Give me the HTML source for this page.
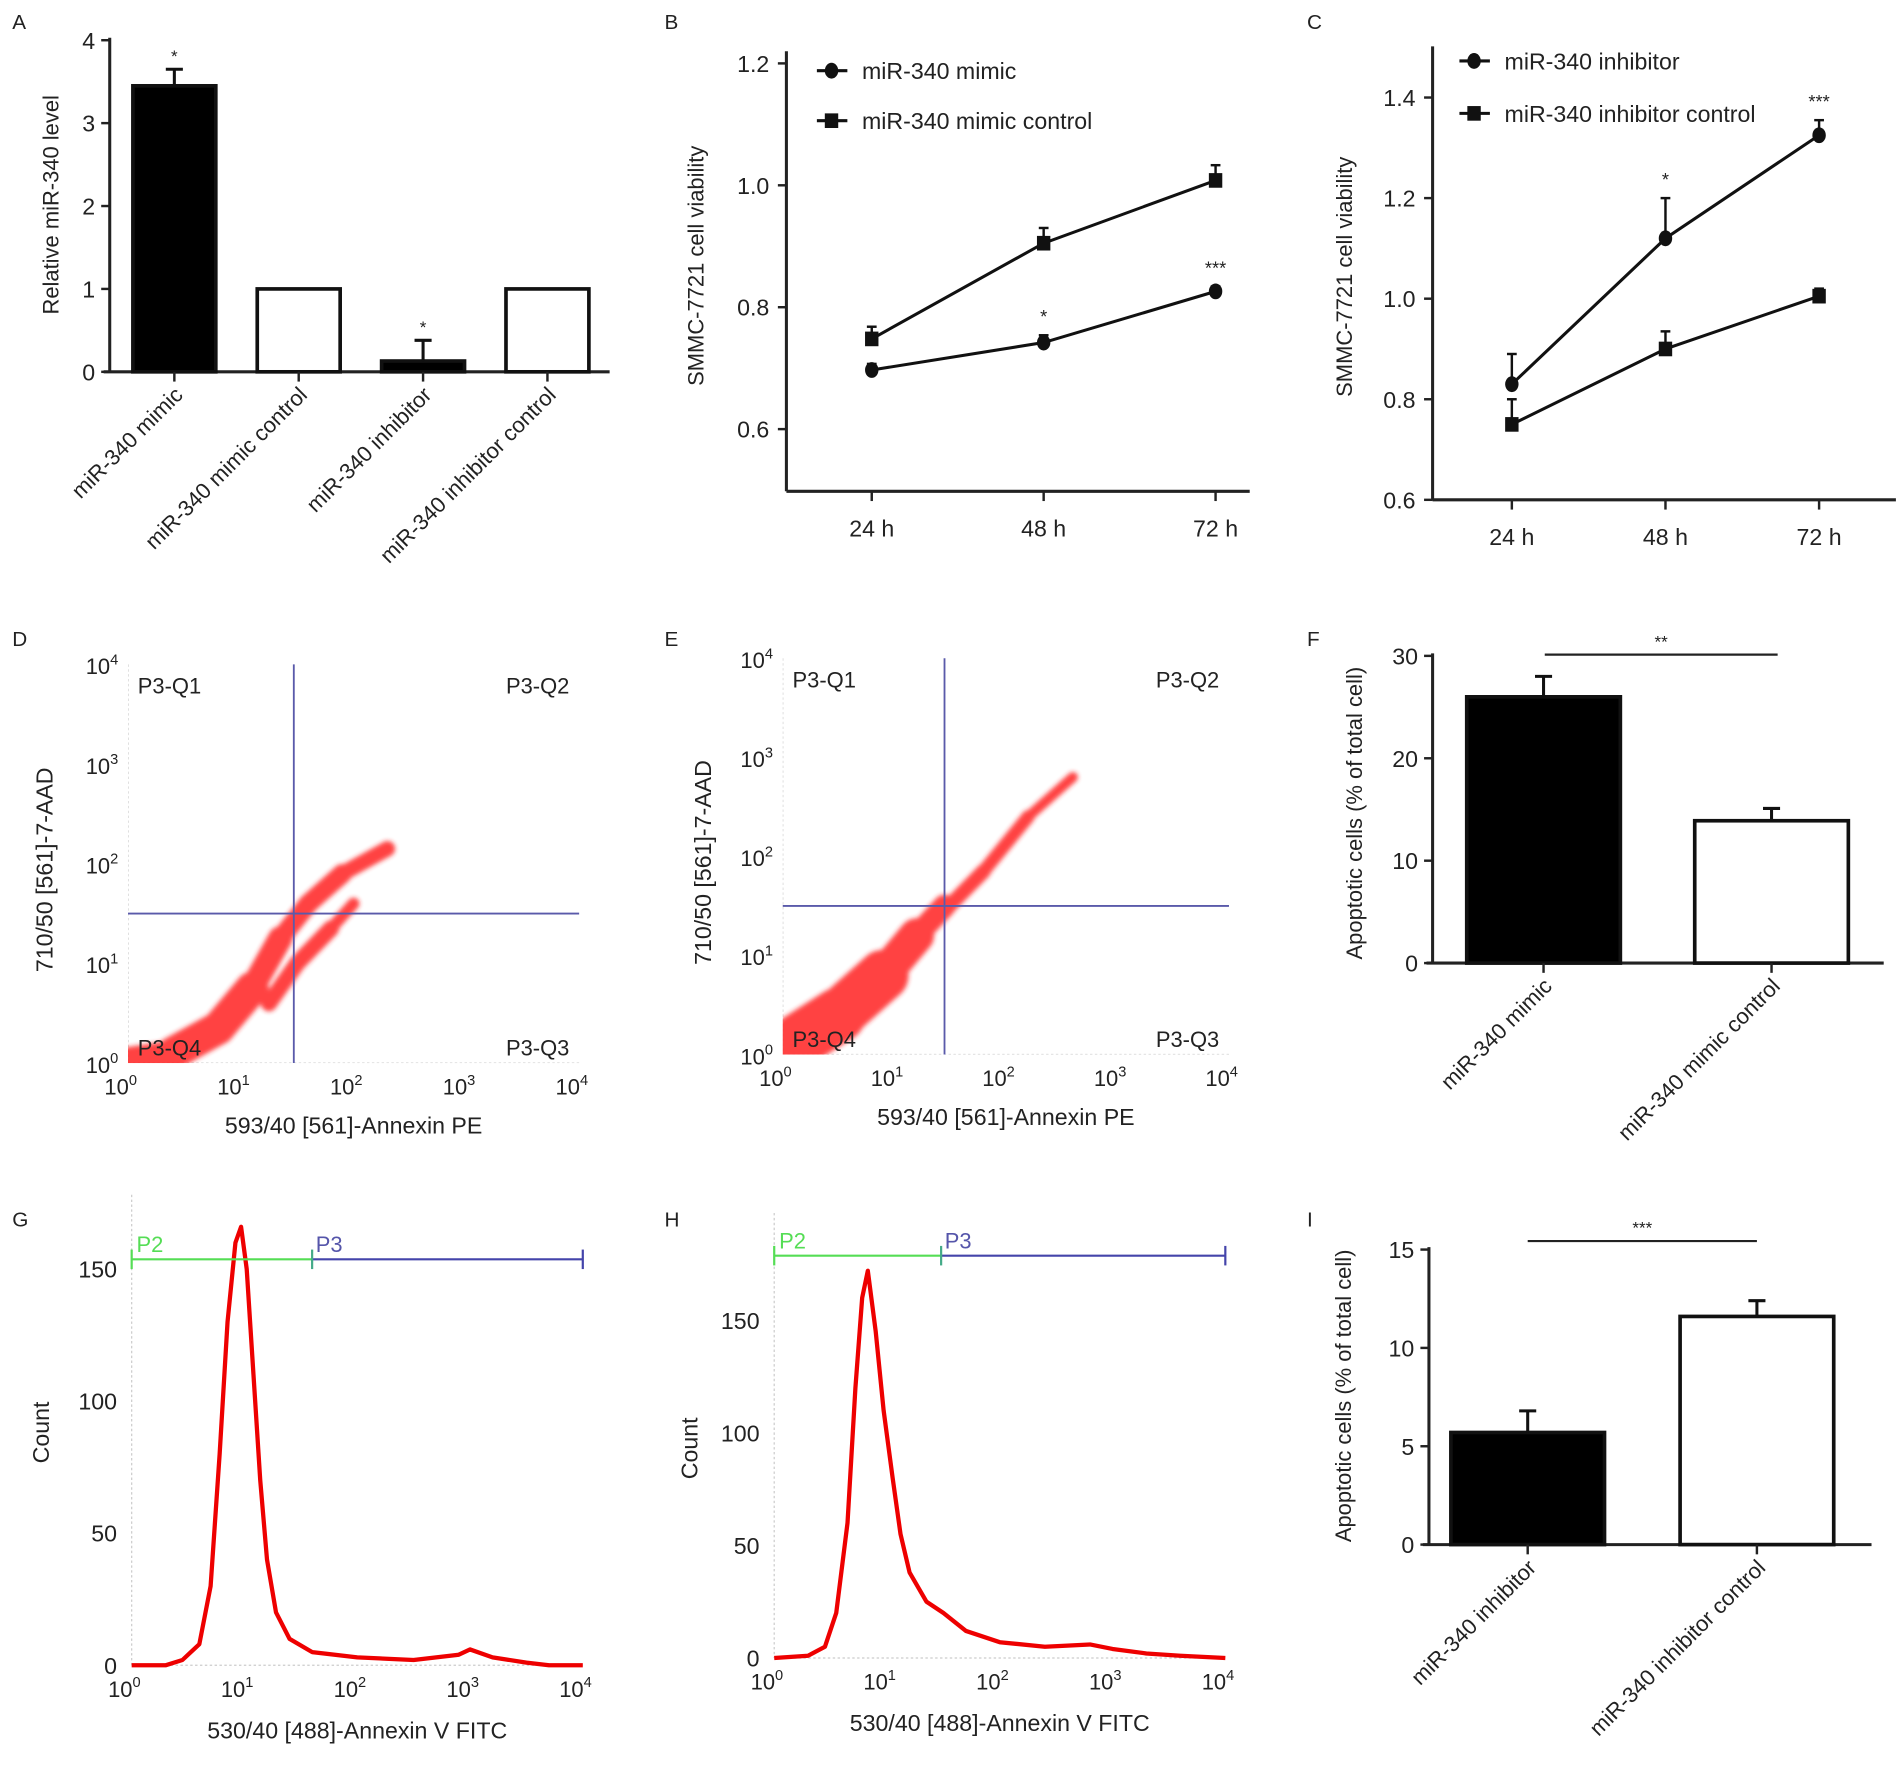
<!DOCTYPE html>
<html><head><meta charset="utf-8"><style>
html,body{margin:0;padding:0;background:#fff;}
svg{display:block;font-family:"Liberation Sans",Arial,sans-serif;}
</style></head><body>
<svg id="fig" width="1902" height="1775" viewBox="0 0 1560 1456" preserveAspectRatio="none" xmlns="http://www.w3.org/2000/svg">
<defs><filter id="blur" x="-20%" y="-20%" width="140%" height="140%"><feGaussianBlur stdDeviation="2"/></filter></defs>
</svg>
<script>
// ---------- Panel A data ----------
const aCats = ["miR-340 mimic","miR-340 mimic control","miR-340 inhibitor","miR-340 inhibitor control"];
const aVals = [3.45, 1.0, 0.13, 1.0];
const aErrs = [0.2, 0, 0.25, 0];
const aFill = ["black","white","black","white"];
const aStars = ["*","","*",""];
const aTicks = [0,1,2,3,4];
// ---------- Panel B data ----------
const bCats = ["24 h","48 h","72 h"];
const bMimic = [0.697, 0.742, 0.826];
const bMimicErr = [0.01, 0.012, 0.008];
const bCtrl = [0.748, 0.905, 1.008];
const bCtrlErr = [0.02, 0.025, 0.025];
const bStars = ["","*","***"];
const bTicks = [0.6,0.8,1.0,1.2];
// ---------- Panel C data ----------
const cCats = ["24 h","48 h","72 h"];
const cInh = [0.83, 1.12, 1.325];
const cInhErr = [0.06, 0.08, 0.03];
const cCtrl = [0.75, 0.90, 1.005];
const cCtrlErr = [0.05, 0.035, 0.015];
const cStars = ["","*","***"];
const cTicks = [0.6,0.8,1.0,1.2,1.4];
// ---------- Panel F data ----------
const fCats = ["miR-340 mimic","miR-340 mimic control"];
const fVals = [26, 13.9];
const fErrs = [2, 1.2];
const fTicks = [0,10,20,30];
// ---------- Panel I data ----------
const iCats = ["miR-340 inhibitor","miR-340 inhibitor control"];
const iVals = [5.7, 11.6];
const iErrs = [1.1, 0.8];
const iTicks = [0,5,10,15];
// ---------- Scatter density paths (log10 x, log10 y, spread) ----------
const dPath1 = [[0.0,0.03,0.15],[0.4,0.1,0.2],[0.8,0.35,0.25],[1.1,0.75,0.2],[1.35,1.25,0.13],[1.6,1.6,0.13],[1.9,1.9,0.13],[2.3,2.15,0.08]];
const dPath2 = [[1.25,0.6,0.1],[1.5,1.0,0.12],[1.8,1.35,0.1],[2.0,1.6,0.06]];
const ePath1 = [[0.15,0.15,0.35],[0.5,0.4,0.4],[0.9,0.8,0.3],[1.2,1.2,0.18],[1.45,1.5,0.13]];
const ePath2 = [[1.45,1.45,0.1],[1.8,1.85,0.1],[2.2,2.4,0.08],[2.6,2.8,0.06]];
// ---------- Histogram data (log10 x, count) ----------
const gHist = [[0,0],[0.3,0],[0.45,2],[0.6,8],[0.7,30],[0.78,80],[0.85,130],[0.92,160],[0.97,166],[1.02,150],[1.08,110],[1.14,70],[1.2,40],[1.28,20],[1.4,10],[1.6,5],[2.0,3],[2.5,2],[2.9,4],[3.0,6],[3.2,3],[3.5,1],[3.7,0],[4,0]];
const hHist = [[0,0],[0.3,1],[0.45,5],[0.55,20],[0.65,60],[0.72,120],[0.78,160],[0.83,172],[0.9,145],[0.97,110],[1.05,80],[1.12,55],[1.2,38],[1.35,25],[1.5,20],[1.7,12],[2.0,7],[2.4,5],[2.8,6],[3.0,4],[3.3,2],[3.6,1],[4,0]];

const NS="http://www.w3.org/2000/svg";
const svg=document.getElementById('fig');
function el(tag,attrs,parent,text){const e=document.createElementNS(NS,tag);for(const k in attrs)e.setAttribute(k,attrs[k]);if(text!==undefined)e.textContent=text;(parent||svg).appendChild(e);return e;}
function g(name){const e=el('g',{});return e;}
const lin=(d0,d1,r0,r1)=>v=>r0+(v-d0)/(d1-d0)*(r1-r0);
function txt(p,x,y,s,size,anchor,extra){return el('text',Object.assign({x:x,y:y,'font-size':size||18,'text-anchor':anchor||'middle',fill:'#222'},extra||{}),p,s);}

const letters=[["A",10,24],["B",545,24],["C",1072,24],["D",10,530],["E",545,530],["F",1072,530],["G",10,1006],["H",545,1006],["I",1072,1006]];
letters.forEach(l=>{const t=txt(svg,l[1],l[2],l[0],17,'start');});

function barChart(name,cfg){
  const p=g(name);
  const y=lin(cfg.ymin,cfg.ymax,cfg.y0,cfg.y1);
  el('line',{x1:cfg.ax,y1:y(cfg.ymax)-2,x2:cfg.ax,y2:cfg.y0,stroke:'#222','stroke-width':2.5},p);
  el('line',{x1:cfg.ax-5,y1:cfg.y0,x2:cfg.xEnd,y2:cfg.y0,stroke:'#222','stroke-width':2.5},p);
  cfg.ticks.forEach(t=>{el('line',{x1:cfg.ax-7,y1:y(t),x2:cfg.ax,y2:y(t),stroke:'#222','stroke-width':2},p);
    const tl=txt(p,cfg.ax-12,y(t)+7,String(t),19,'end');});
  cfg.cats.forEach((c,i)=>{
    const cx=cfg.c0+i*cfg.step, bw=cfg.bw;
    const r=el('rect',{x:cx-bw/2,y:y(cfg.vals[i]),width:bw,height:cfg.y0-y(cfg.vals[i]),fill:cfg.fill[i],stroke:'#111','stroke-width':3},p);
    
    
    if(cfg.errs[i]>0){el('line',{x1:cx,y1:y(cfg.vals[i]),x2:cx,y2:y(cfg.vals[i]+cfg.errs[i]),stroke:'#111','stroke-width':2.5},p);
      el('line',{x1:cx-7,y1:y(cfg.vals[i]+cfg.errs[i]),x2:cx+7,y2:y(cfg.vals[i]+cfg.errs[i]),stroke:'#111','stroke-width':2.5},p);}
    if(cfg.stars&&cfg.stars[i])txt(p,cx,y(cfg.vals[i]+cfg.errs[i])-6,cfg.stars[i],14);
    el('line',{x1:cx,y1:cfg.y0,x2:cx,y2:cfg.y0+8,stroke:'#222','stroke-width':2},p);
    const lx=cx+8, ly=cfg.y0+20;
    const lab=txt(p,lx,ly,c,18,'end',{transform:`rotate(-45 ${lx} ${ly})`});
    
  });
  const yl=txt(p,cfg.ylx,cfg.yly,cfg.ylabel,18,'middle',{transform:`rotate(-90 ${cfg.ylx} ${cfg.yly})`});
  
  if(cfg.sig){el('line',{x1:cfg.sig[0],y1:cfg.sig[2],x2:cfg.sig[1],y2:cfg.sig[2],stroke:'#222','stroke-width':1.8},p);
    txt(p,(cfg.sig[0]+cfg.sig[1])/2,cfg.sig[2]-6,cfg.sig[3],14);}
}
barChart('panel-a-bar-chart',{ymin:0,ymax:4,y0:305,y1:33,ax:90,xEnd:500,ticks:aTicks,cats:aCats,vals:aVals,errs:aErrs,fill:aFill,stars:aStars,c0:143,step:102,bw:68,ylx:48,yly:168,ylabel:"Relative miR-340 level"});
barChart('panel-f-bar-chart',{ymin:0,ymax:30,y0:790,y1:538,ax:1175,xEnd:1545,ticks:fTicks,cats:fCats,vals:fVals,errs:fErrs,fill:["black","white"],c0:1266,step:187,bw:126,ylx:1117,yly:667,ylabel:"Apoptotic cells (% of total cell)",sig:[1267,1458,537,"**"]});
barChart('panel-i-bar-chart',{ymin:0,ymax:15,y0:1267,y1:1025,ax:1172,xEnd:1535,ticks:iTicks,cats:iCats,vals:iVals,errs:iErrs,fill:["black","white"],c0:1253,step:188,bw:126,ylx:1108,yly:1145,ylabel:"Apoptotic cells (% of total cell)",sig:[1253,1441,1018,"***"]});

function lineChart(name,cfg){
  const p=g(name);
  const y=lin(cfg.ymin,cfg.ymax,cfg.y0,cfg.y1);
  const bot=cfg.bottom;
  el('line',{x1:cfg.ax,y1:cfg.top,x2:cfg.ax,y2:bot,stroke:'#222','stroke-width':2.5},p);
  el('line',{x1:cfg.ax,y1:bot,x2:cfg.xEnd,y2:bot,stroke:'#222','stroke-width':2.5},p);
  cfg.ticks.forEach(t=>{el('line',{x1:cfg.ax-7,y1:y(t),x2:cfg.ax,y2:y(t),stroke:'#222','stroke-width':2},p);
    const tl=txt(p,cfg.ax-14,y(t)+7,t.toFixed(1),19,'end');});
  const xs=cfg.cats.map((c,i)=>cfg.c0+i*cfg.step);
  cfg.cats.forEach((c,i)=>{el('line',{x1:xs[i],y1:bot,x2:xs[i],y2:bot+8,stroke:'#222','stroke-width':2},p);
    const tl=txt(p,xs[i],bot+37,c,19);});
  cfg.series.forEach(s=>{
    const sg=el('g',{},p);
    el('polyline',{points:s.vals.map((v,i)=>xs[i]+','+y(v)).join(' '),fill:'none',stroke:'#111','stroke-width':2.5},sg);
    s.vals.forEach((v,i)=>{
      el('line',{x1:xs[i],y1:y(v),x2:xs[i],y2:y(v+s.errs[i]),stroke:'#111','stroke-width':2},sg);
      el('line',{x1:xs[i]-4,y1:y(v+s.errs[i]),x2:xs[i]+4,y2:y(v+s.errs[i]),stroke:'#111','stroke-width':2},sg);
      const m = s.marker==='circle'?el('ellipse',{cx:xs[i],cy:y(v),rx:5.5,ry:6.5,fill:'#111'},sg):el('rect',{x:xs[i]-5.5,y:y(v)-6,width:11,height:12,fill:'#111'},sg);
      
    });
  });
  cfg.stars.forEach((st,i)=>{if(st){const s=cfg.series[cfg.starSeries];txt(p,xs[i],y(s.vals[i]+s.errs[i])-10,st,15);}});
  cfg.series.forEach((s,k)=>{
    const lg=el('g',{},p);
    const ly=cfg.legY[k];
    el('line',{x1:cfg.legX,y1:ly,x2:cfg.legX+25,y2:ly,stroke:'#111','stroke-width':2.5},lg);
    if(s.marker==='circle')el('ellipse',{cx:cfg.legX+12,cy:ly,rx:5.5,ry:6.5,fill:'#111'},lg);else el('rect',{x:cfg.legX+6.5,y:ly-6,width:11,height:12,fill:'#111'},lg);
    txt(lg,cfg.legX+37,ly+7,s.name,19,'start');
  });
  const yl=txt(p,cfg.ylx,cfg.yly,cfg.ylabel,18,'middle',{transform:`rotate(-90 ${cfg.ylx} ${cfg.yly})`});
  
}
lineChart('panel-b-line-chart',{ymin:0.6,ymax:1.2,y0:352,y1:52,top:42,bottom:403,ax:645,xEnd:1025,ticks:bTicks,cats:bCats,c0:715,step:141,legX:670,legY:[58,99],ylx:577,yly:218,ylabel:"SMMC-7721 cell viability",stars:bStars,starSeries:0,
  series:[{name:"miR-340 mimic",vals:bMimic,errs:bMimicErr,marker:'circle'},{name:"miR-340 mimic control",vals:bCtrl,errs:bCtrlErr,marker:'square'}]});
lineChart('panel-c-line-chart',{ymin:0.6,ymax:1.4,y0:410,y1:80,top:38,bottom:410,ax:1175,xEnd:1555,ticks:cTicks,cats:cCats,c0:1240,step:126,legX:1197,legY:[50,93],ylx:1109,yly:227,ylabel:"SMMC-7721 cell viability",stars:cStars,starSeries:0,
  series:[{name:"miR-340 inhibitor",vals:cInh,errs:cInhErr,marker:'circle'},{name:"miR-340 inhibitor control",vals:cCtrl,errs:cCtrlErr,marker:'square'}]});

function logLabel(p,x,y,exp,anchor,name){const t=el('text',{x:x,y:y,'font-size':18,'text-anchor':anchor,fill:'#222'},p);
  el('tspan',{},t,'10');el('tspan',{dy:-8,'font-size':12},t,String(exp));
  }

function scatter(name,cfg){
  const p=g(name);
  const x=lin(0,4,cfg.x0,cfg.x1), y=lin(0,4,cfg.y0,cfg.y1);
  el('line',{x1:cfg.x0,y1:cfg.y1,x2:cfg.x0,y2:cfg.y0,stroke:'#ccc','stroke-width':1,'stroke-dasharray':'2,2'},p);
  el('line',{x1:cfg.x0,y1:cfg.y0,x2:cfg.x1,y2:cfg.y0,stroke:'#ccc','stroke-width':1,'stroke-dasharray':'2,2'},p);
  const cl=el('g',{filter:'url(#blur)',opacity:0.85},p);
  cfg.paths.forEach(path=>{
    for(let i=0;i<path.length-1;i++){const a=path[i],b=path[i+1];
      const w=((a[2]+b[2])/2)*(cfg.x1-cfg.x0)/4*1.3;
      el('line',{x1:x(a[0]),y1:y(a[1]),x2:x(b[0]),y2:y(b[1]),stroke:'#f22','stroke-width':w,'stroke-linecap':'round'},cl);}
  });
  el('rect',{x:cfg.x0-30,y:cfg.y0,width:cfg.x1-cfg.x0+60,height:40,fill:'#fff'},p);
  el('rect',{x:cfg.x0-40,y:cfg.y1-20,width:40,height:cfg.y0-cfg.y1+30,fill:'#fff'},p);
  const qx=x(cfg.qx), qy=y(cfg.qy);
  el('line',{x1:qx,y1:cfg.y1,x2:qx,y2:cfg.y0,stroke:'#5a5aaa','stroke-width':1.5},p);
  el('line',{x1:cfg.x0,y1:qy,x2:cfg.x1,y2:qy,stroke:'#5a5aaa','stroke-width':1.5},p);
  [0,1,2,3,4].forEach(e=>{logLabel(p,x(e)-6,cfg.y0+26,e,'middle','x-tick-label');logLabel(p,cfg.x0-8,y(e)+8,e,'end','y-tick-label');});
  txt(p,cfg.x0+8,cfg.y1+24,"P3-Q1",18,'start');txt(p,cfg.x1-8,cfg.y1+24,"P3-Q2",18,'end');
  txt(p,cfg.x1-8,cfg.y0-6,"P3-Q3",18,'end');txt(p,cfg.x0+8,cfg.y0-6,"P3-Q4",18,'start');
  const xl=txt(p,(cfg.x0+cfg.x1)/2,cfg.y0+58,"593/40 [561]-Annexin PE",19);
  const yl=txt(p,cfg.ylx,(cfg.y0+cfg.y1)/2+5,"710/50 [561]-7-AAD",19,'middle',{transform:`rotate(-90 ${cfg.ylx} ${(cfg.y0+cfg.y1)/2+5})`});
  
}
scatter('panel-d-flow-scatter',{x0:105,x1:475,y0:872,y1:545,qx:1.47,qy:1.5,paths:[dPath1,dPath2],ylx:43});
scatter('panel-e-flow-scatter',{x0:642,x1:1008,y0:865,y1:540,qx:1.45,qy:1.5,paths:[ePath1,ePath2],ylx:583});

function hist(name,cfg){
  const p=g(name);
  const x=lin(0,4,cfg.x0,cfg.x1), y=lin(0,150,cfg.y0,cfg.y150);
  el('line',{x1:cfg.x0,y1:cfg.top,x2:cfg.x0,y2:cfg.y0,stroke:'#ccc','stroke-width':1,'stroke-dasharray':'2,2'},p);
  el('line',{x1:cfg.x0,y1:cfg.y0,x2:cfg.x1,y2:cfg.y0,stroke:'#ccc','stroke-width':1,'stroke-dasharray':'2,2'},p);
  const pl=el('polyline',{points:cfg.data.map(d=>x(d[0])+','+y(d[1])).join(' '),fill:'none',stroke:'#e00','stroke-width':3.5,'stroke-linejoin':'round'},p);
  
  [0,50,100,150].forEach(t=>{const tl=txt(p,cfg.x0-12,y(t)+7,String(t),19,'end');});
  [0,1,2,3,4].forEach(e=>logLabel(p,x(e)-6,cfg.y0+26,e,'middle','x-tick-label'));
  const gx=x(cfg.gate);
  const gt=el('g',{},p);
  el('line',{x1:cfg.x0,y1:cfg.gy,x2:gx,y2:cfg.gy,stroke:'#5d5','stroke-width':1.8},gt);
  el('line',{x1:cfg.x0,y1:cfg.gy-8,x2:cfg.x0,y2:cfg.gy+8,stroke:'#5d5','stroke-width':1.8},gt);
  txt(gt,cfg.x0+4,cfg.gy-6,"P2",18,'start',{fill:'#5d5'});
  const g3=el('g',{},p);
  el('line',{x1:gx,y1:cfg.gy,x2:cfg.x1,y2:cfg.gy,stroke:'#44a','stroke-width':1.8},g3);
  el('line',{x1:gx,y1:cfg.gy-8,x2:gx,y2:cfg.gy+8,stroke:'#4a8','stroke-width':1.8},g3);
  el('line',{x1:cfg.x1,y1:cfg.gy-8,x2:cfg.x1,y2:cfg.gy+8,stroke:'#44a','stroke-width':1.8},g3);
  txt(g3,gx+3,cfg.gy-6,"P3",18,'start',{fill:'#55a'});
  const xl=txt(p,(cfg.x0+cfg.x1)/2,cfg.y0+60,"530/40 [488]-Annexin V FITC",19);
  const yl=txt(p,cfg.ylx,cfg.yly,"Count",19,'middle',{transform:`rotate(-90 ${cfg.ylx} ${cfg.yly})`});
}
hist('panel-g-histogram',{x0:108,x1:478,y0:1366,y150:1041,top:980,data:gHist,gate:1.6,gy:1033,ylx:40,yly:1175});
hist('panel-h-histogram',{x0:635,x1:1005,y0:1360,y150:1083,top:995,data:hHist,gate:1.48,gy:1030,ylx:572,yly:1188});
</script>
</body></html>
